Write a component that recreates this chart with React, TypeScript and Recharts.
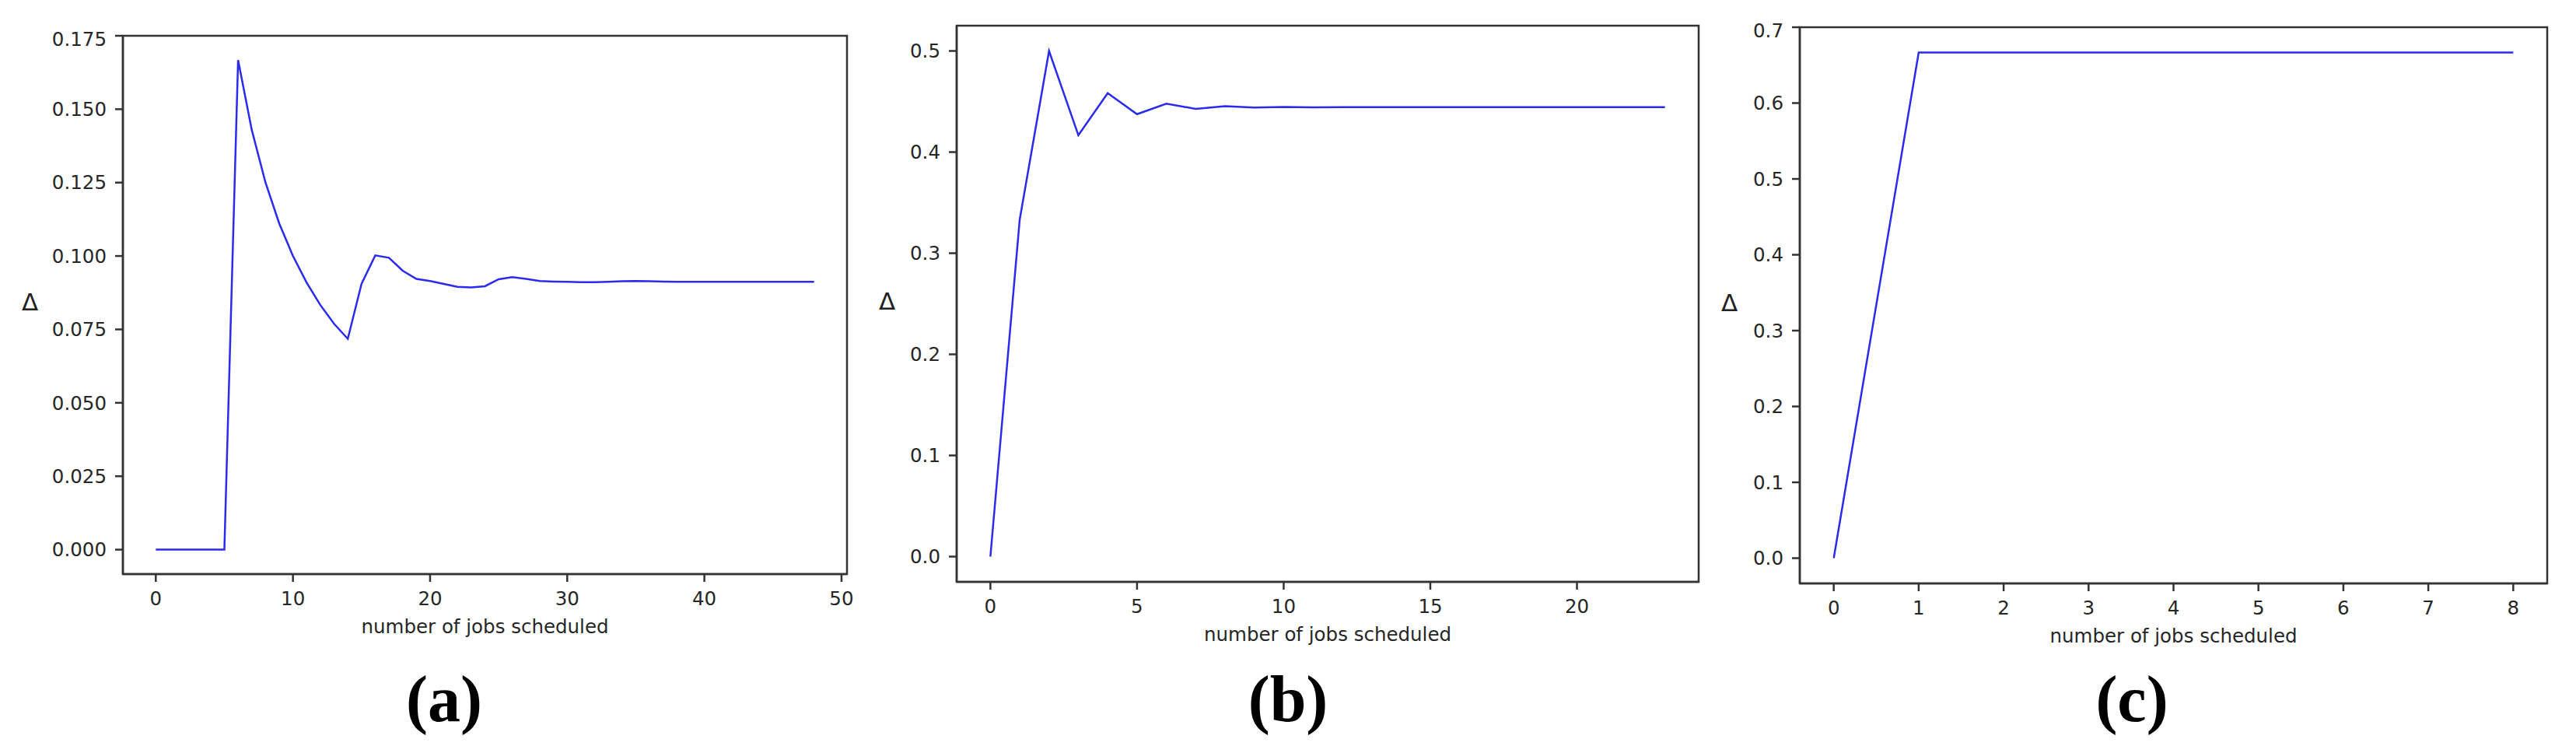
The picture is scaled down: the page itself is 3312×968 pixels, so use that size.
import React from 'react';
import { LineChart, Line, XAxis, YAxis, ReferenceArea } from 'recharts';

// delta per number of jobs scheduled, x = index
const deltaA = [
  0, 0, 0, 0, 0, 0, 0.1667, 0.1429, 0.125, 0.1111,
  0.1, 0.0909, 0.0833, 0.0769, 0.0718, 0.0905, 0.1002, 0.0994, 0.095, 0.0922,
  0.0915, 0.0905, 0.0895, 0.0893, 0.0897, 0.0921, 0.0928, 0.0922, 0.0915, 0.0913,
  0.0912, 0.0911, 0.0911, 0.0912, 0.0914, 0.0915, 0.0914, 0.0913, 0.0912, 0.0912,
  0.0912, 0.0912, 0.0912, 0.0912, 0.0912, 0.0912, 0.0912, 0.0912, 0.0912,
];
const deltaB = [
  0, 0.3333, 0.5, 0.4167, 0.4583, 0.4375, 0.4479, 0.4427, 0.4453, 0.444,
  0.4447, 0.4443, 0.4445, 0.4445, 0.4445, 0.4445, 0.4445, 0.4445, 0.4445, 0.4445,
  0.4445, 0.4445, 0.4445, 0.4445,
];
const deltaC = [0, 0.6667, 0.6667, 0.6667, 0.6667, 0.6667, 0.6667, 0.6667, 0.6667];

const xTicksA = [0, 10, 20, 30, 40, 50];
const yTicksA = [0, 0.025, 0.05, 0.075, 0.1, 0.125, 0.15, 0.175];
const xTicksB = [0, 5, 10, 15, 20];
const yTicksB = [0, 0.1, 0.2, 0.3, 0.4, 0.5];
const xTicksC = [0, 1, 2, 3, 4, 5, 6, 7, 8];
const yTicksC = [0, 0.1, 0.2, 0.3, 0.4, 0.5, 0.6, 0.7];

const captions = ['(a)', '(b)', '(c)'];

const AXIS = '#333333';
const LINE = '#2b2bf0';
const TICK_FONT = { fontSize: 24.5, fill: '#262626', fontFamily: 'DejaVu Sans' };

interface PanelProps {
  values: number[];
  xTicks: number[];
  yTicks: number[];
  xDomain: [number, number];
  yDomain: [number, number];
  decimals: number;
  // frame of the axes box on the page
  frame: { left: number; top: number; right: number; bottom: number };
  chartLeft: number;
  deltaX: number;
}

const Panel: React.FC<PanelProps> = ({ values, xTicks, yTicks, xDomain, yDomain, decimals, frame, chartLeft, deltaX }) => {
  const data = values.map((v, i) => ({ x: i, v }));
  const mt = 10;
  const mr = 20;
  const xh = 100;
  const yw = frame.left - chartLeft;
  const width = yw + (frame.right - frame.left) + mr;
  const height = mt + (frame.bottom - frame.top) + xh;

  return (
    <div style={{ position: 'absolute', left: chartLeft, top: frame.top - mt }}>
      <LineChart width={width} height={height} data={data} margin={{ top: mt, right: mr, bottom: 0, left: 0 }}>
        <XAxis
          dataKey="x"
          type="number"
          domain={xDomain}
          ticks={xTicks}
          allowDataOverflow
          height={xh}
          tickSize={10}
          tickMargin={13}
          stroke={AXIS}
          strokeWidth={2.5}
          tick={TICK_FONT}
          label={{ value: 'number of jobs scheduled', position: 'insideBottom', offset: xh - 76, style: { ...TICK_FONT, textAnchor: 'middle' } }}
        />
        <YAxis
          type="number"
          domain={yDomain}
          ticks={yTicks}
          allowDataOverflow
          width={yw}
          tickSize={10}
          tickMargin={11}
          stroke={AXIS}
          strokeWidth={2.5}
          tick={TICK_FONT}
          tickFormatter={(v: number) => v.toFixed(decimals)}
          label={{ value: 'Δ', position: 'insideLeft', offset: deltaX - chartLeft, angle: 0, dy: -4, style: { ...TICK_FONT, fontSize: 31, fill: '#222' } }}
        />
        <ReferenceArea
          x1={xDomain[0]}
          x2={xDomain[1]}
          y1={yDomain[0]}
          y2={yDomain[1]}
          ifOverflow="visible"
          fill="none"
          stroke={AXIS}
          strokeWidth={2.5}
        />
        <Line type="linear" dataKey="v" stroke={LINE} strokeWidth={2.5} dot={false} isAnimationActive={false} />
      </LineChart>
    </div>
  );
};

const captionX = [571, 1656, 2741];

export default function App() {
  return (
    <div style={{ position: 'absolute', left: 0, top: 0, width: 3312, height: 968, background: '#fff', overflow: 'hidden' }}>
      <Panel
        values={deltaA}
        xTicks={xTicksA}
        yTicks={yTicksA}
        xDomain={[-2.4, 50.4]}
        yDomain={[-0.00833, 0.175]}
        decimals={3}
        frame={{ left: 158, top: 46, right: 1089, bottom: 738 }}
        chartLeft={0}
        deltaX={28}
      />
      <Panel
        values={deltaB}
        xTicks={xTicksB}
        yTicks={yTicksB}
        xDomain={[-1.15, 24.15]}
        yDomain={[-0.025, 0.525]}
        decimals={1}
        frame={{ left: 1230, top: 33, right: 2184, bottom: 748 }}
        chartLeft={1100}
        deltaX={1130}
      />
      <Panel
        values={deltaC}
        xTicks={xTicksC}
        yTicks={yTicksC}
        xDomain={[-0.4, 8.4]}
        yDomain={[-0.0333, 0.7]}
        decimals={1}
        frame={{ left: 2314, top: 35, right: 3275, bottom: 750 }}
        chartLeft={2190}
        deltaX={2213}
      />
      <svg width={3312} height={968} style={{ position: 'absolute', left: 0, top: 0, pointerEvents: 'none' }}>
        {captions.map((c, i) => (
          <text
            key={c}
            x={captionX[i]}
            y={927}
            textAnchor="middle"
            fontFamily="'Liberation Serif', serif"
            fontWeight="bold"
            fontSize={84}
            fill="#000"
          >
            {c}
          </text>
        ))}
      </svg>
    </div>
  );
}
